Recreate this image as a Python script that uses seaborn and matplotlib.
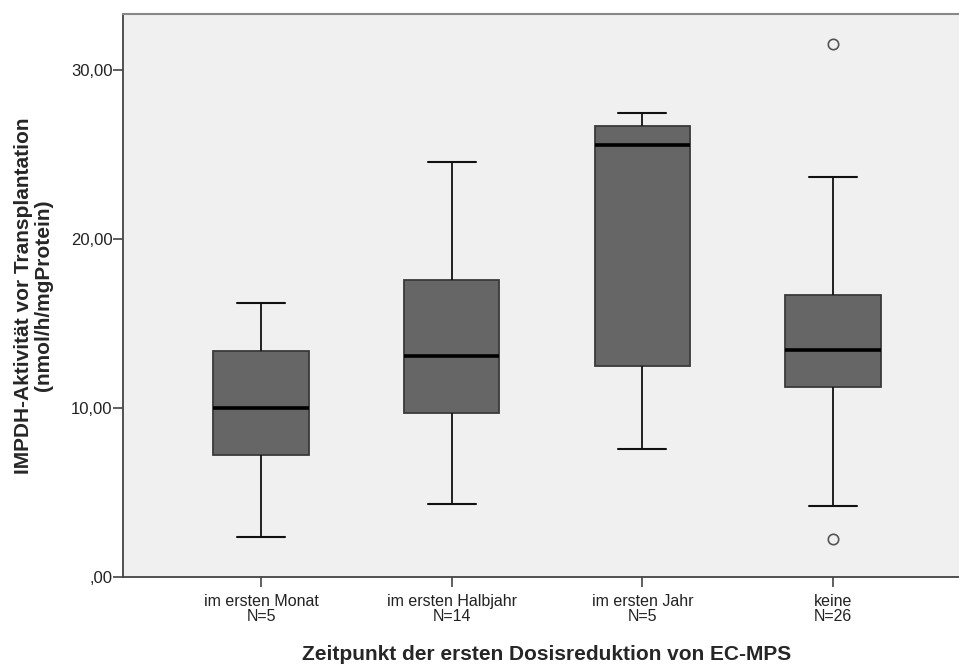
import matplotlib
matplotlib.use("Agg")
import matplotlib.pyplot as plt
import seaborn as sns
import pandas as pd

# Categories and group sizes
categories = ["im ersten Monat", "im ersten Halbjahr", "im ersten Jahr", "keine"]
group_n = [5, 14, 5, 26]

# Values (whisker ends, quartiles, median, outliers)
vals_monat = [2.37, 7.22, 10.00, 13.37, 16.20]
vals_halbjahr = [4.32, 9.70, 13.08, 17.57, 24.56]
vals_jahr = [7.57, 12.49, 25.56, 26.69, 27.46]
vals_keine = [2.25, 4.20, 11.24, 12.30, 13.43, 15.00, 16.69, 23.67, 31.54]

y_ticks = [0, 10, 20, 30]
y_ticklabels = [",00", "10,00", "20,00", "30,00"]

groups = [vals_monat, vals_halbjahr, vals_jahr, vals_keine]
rows = []
for cat, vals in zip(categories, groups):
    for v in vals:
        rows.append({"group": cat, "value": v})
df = pd.DataFrame(rows)

sns.set_style("white")
plt.rcParams["font.family"] = ["Liberation Sans", "DejaVu Sans"]

fig = plt.figure(figsize=(9.59, 6.64), dpi=100)
ax = fig.add_axes([123 / 959, 1 - 577 / 664, (971 - 123) / 959, (577 - 14) / 664])
ax.set_facecolor("#f0f0f0")

sns.boxplot(
    data=df, x="group", y="value", order=categories, ax=ax,
    color="#666666", saturation=1, width=0.5, linewidth=1.3,
    linecolor="#111111",
    boxprops=dict(edgecolor="#3a3a3a", linewidth=1.3),
    medianprops=dict(color="#000000", linewidth=2.6),
    whiskerprops=dict(color="#111111", linewidth=1.3),
    capprops=dict(color="#111111", linewidth=1.5),
    flierprops=dict(marker="o", markersize=7.5, markerfacecolor="none",
                    markeredgecolor="#555555", markeredgewidth=1.2),
)

ax.set_xlim(-0.724, 3.724)
ax.set_ylim(0, 33.3)
ax.set_yticks(y_ticks)
ax.set_yticklabels(y_ticklabels)
ax.set_xticks(range(len(categories)))
ax.set_xticklabels([f"{c}\nN={n}" for c, n in zip(categories, group_n)],
                   linespacing=1.0)
ax.tick_params(axis="both", which="both", direction="out", length=7,
               width=1.2, color="#444444", labelsize=11.5, labelcolor="#222222",
               left=True, bottom=True)
ax.tick_params(axis="y", pad=0.5, labelsize=12)
ax.tick_params(axis="x", pad=5.0)

for side in ["left", "bottom"]:
    ax.spines[side].set_color("#444444")
    ax.spines[side].set_linewidth(1.3)
ax.spines["top"].set_color("#888888")
ax.spines["top"].set_linewidth(1.5)
ax.spines["right"].set_visible(False)

ax.set_xlabel("Zeitpunkt der ersten Dosisreduktion von EC-MPS",
              fontsize=15, fontweight="bold", va="baseline")
ax.xaxis.set_label_coords(0.5, -83 / 563)
ax.set_ylabel("IMPDH-Aktivität vor Transplantation\n(nmol/h/mgProtein)",
              fontsize=15, fontweight="bold", linespacing=1.1, va="center")
ax.yaxis.set_label_coords((33.5 - 123) / 848, 0.5)

fig.savefig("out.png", dpi=100)
